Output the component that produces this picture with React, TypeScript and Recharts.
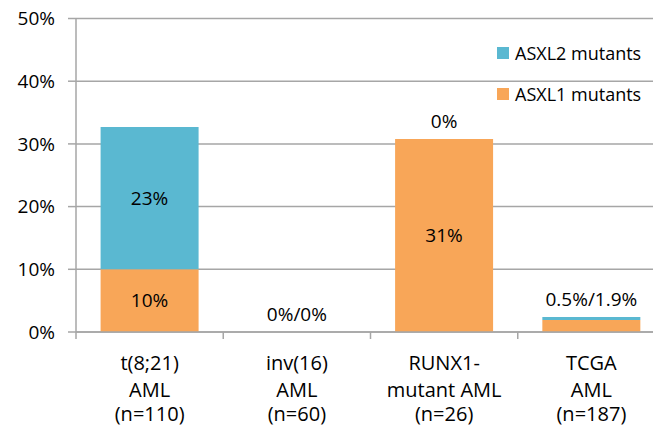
import React from 'react';
import { BarChart, Bar, XAxis, YAxis, CartesianGrid, LabelList, ReferenceDot } from 'recharts';

const catLine1 = ['t(8;21)', 'inv(16)', 'RUNX1-', 'TCGA'];
const catLine2 = ['AML', 'AML', 'mutant AML', 'AML'];
const catLine3 = ['(n=110)', '(n=60)', '(n=26)', '(n=187)'];
const asxl1 = [10, 0, 30.8, 1.9];
const asxl2 = [22.7, 0, 0, 0.5];
const asxl1Labels = ['10%', '', '31%', ''];
const asxl2Labels = ['23%', '', '', ''];
const topLabels = ['', '0%/0%', '0%', '0.5%/1.9%'];
const yTicks = [0, 10, 20, 30, 40, 50];

const data = catLine1.map((c, i) => ({
    name: c,
    asxl1: asxl1[i],
    asxl2: asxl2[i],
    l1: asxl1Labels[i],
    l2: asxl2Labels[i],
}));

const BLUE = '#5AB8D1';
const ORANGE = '#F8A658';
const GRID = '#A6A6A6';
const FONT = '"Open Sans", sans-serif';

const W = 680;
const H = 427;
const M = { top: 18.5, right: 15, left: 0, bottom: 0 };
const Y_W = 76;
const BAND = (W - M.left - M.right - Y_W) / catLine1.length;

const CatTick = (props: any) => {
    const { x, y, payload } = props;
    const i = payload.index;
    return (
        <g>
            <line x1={x - BAND / 2} x2={x - BAND / 2} y1={y} y2={y + 7} stroke={GRID} strokeWidth={1.5} />
            <text x={x} textAnchor="middle" fill="#000" fontSize={20} fontFamily={FONT}>
                <tspan x={x} y={y + 38}>{catLine1[i]}</tspan>
                <tspan x={x} y={y + 64.5}>{catLine2[i]}</tspan>
                <tspan x={x} y={y + 89}>{catLine3[i]}</tspan>
            </text>
        </g>
    );
};

const legendItems = [
    { label: 'ASXL2 mutants', color: BLUE },
    { label: 'ASXL1 mutants', color: ORANGE },
];

export default function App() {
    return (
        <div style={{ position: 'fixed', left: 0, top: 0, width: 653, height: 427, overflow: 'hidden', background: '#fff' }}>
            <BarChart width={W} height={H} data={data} margin={M} barCategoryGap="16.7%">
                <CartesianGrid vertical={false} stroke={GRID} strokeWidth={1.5} />
                <XAxis
                    dataKey="name"
                    height={95}
                    interval={0}
                    axisLine={{ stroke: GRID, strokeWidth: 1.5 }}
                    tickLine={false}
                    tickSize={0}
                    tickMargin={0}
                    tick={<CatTick />}
                />
                <YAxis
                    width={Y_W}
                    domain={[0, 50]}
                    ticks={yTicks}
                    tickFormatter={(v: number) => `${v}%`}
                    axisLine={{ stroke: GRID, strokeWidth: 1.5 }}
                    tickLine={{ stroke: GRID, strokeWidth: 1.5 }}
                    tickSize={8}
                    tickMargin={13}
                    tick={{ fill: '#000', fontSize: 19, fontFamily: FONT }}
                />
                <Bar dataKey="asxl1" stackId="a" fill={ORANGE} isAnimationActive={false}>
                    <LabelList dataKey="l1" position="center" fill="#000" fontSize={19} fontFamily={FONT} />
                </Bar>
                <Bar dataKey="asxl2" stackId="a" fill={BLUE} isAnimationActive={false}>
                    <LabelList dataKey="l2" position="center" fill="#000" fontSize={19} fontFamily={FONT} />
                </Bar>
                {topLabels.map((t, i) =>
                    t ? (
                        <ReferenceDot
                            key={i}
                            x={catLine1[i]}
                            y={asxl1[i] + asxl2[i]}
                            r={0}
                            fill="none"
                            stroke="none"
                            label={{ value: t, position: 'top', offset: 11, fill: '#000', fontSize: 19, fontFamily: FONT }}
                        />
                    ) : null
                )}
            </BarChart>
            <div style={{ position: 'absolute', left: 497, top: 32, fontFamily: FONT, fontSize: 18, color: '#000' }}>
                {legendItems.map((it) => (
                    <div key={it.label} style={{ display: 'flex', alignItems: 'center', height: 41, whiteSpace: 'nowrap' }}>
                        <span style={{ width: 12, height: 12, background: it.color, marginRight: 6, display: 'inline-block' }} />
                        {it.label}
                    </div>
                ))}
            </div>
        </div>
    );
}
